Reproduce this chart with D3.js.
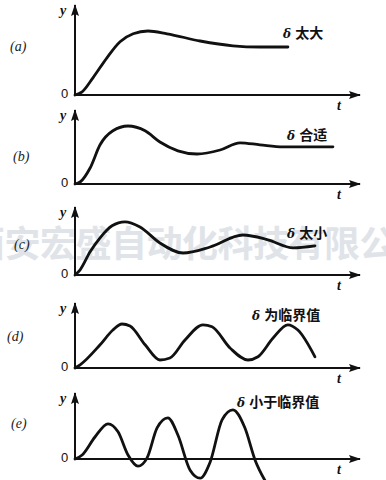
<!DOCTYPE html>
<html lang="zh">
<head>
    <meta charset="UTF-8">
    <title>调节过程曲线</title>
    <script src="https://d3js.org/d3.v7.min.js"></script>
    <style>
        body { margin: 0; background: #fff; overflow: hidden; }
        svg { display: block; }
        .tag { font-family: 'Liberation Serif', serif; font-style: italic; font-size: 14px; fill: #222; }
        .note { font-family: 'Noto Sans CJK SC', sans-serif; font-weight: 700; font-size: 14px; fill: #111; }
        .delta { font-family: 'DejaVu Serif', serif; font-style: italic; font-size: 12px; }
        .ax { font-family: 'Liberation Serif', serif; font-style: italic; font-weight: 700; font-size: 14px; fill: #111; }
        .zero { font-family: 'Liberation Sans', sans-serif; font-size: 13px; fill: #111; }
    </style>
</head>
<body>
<svg id="chart" width="386" height="480"></svg>
<script>
    // 各曲线数据（时间 t, 被调量 y）
    const panelTags = ['(a)', '(b)', '(c)', '(d)', '(e)'];
    const panelNotes = ['太大', '合适', '太小', '为临界值', '小于临界值'];

    const tA = [0, 0.25, 0.63, 1.12, 1.58, 2.04, 2.56, 3.23, 4.39, 5.54, 6.49, 7.47];
    const yA = [0, 0.08, 0.43, 0.93, 1.33, 1.53, 1.60, 1.53, 1.35, 1.23, 1.20, 1.20];

    const tB = [0, 0.18, 0.53, 0.88, 1.33, 1.86, 2.46, 2.98, 3.61, 4.28, 5.09, 5.79, 6.49, 7.30, 9.05];
    const yB = [0, 0.05, 0.40, 0.98, 1.33, 1.45, 1.33, 1.05, 0.83, 0.75, 0.85, 1.03, 0.98, 0.93, 0.93];

    const tC = [0, 0.18, 0.53, 0.88, 1.30, 1.75, 2.28, 2.98, 3.79, 4.74, 5.89, 6.77, 7.65, 8.42];
    const yC = [0, 0.13, 0.58, 0.93, 1.23, 1.33, 1.20, 0.80, 0.55, 0.70, 1.00, 0.88, 0.68, 0.73];

    const tD = [0, 0.18, 0.88, 1.33, 1.65, 1.93, 2.46, 2.98, 3.33, 3.86, 4.49, 4.81, 5.44, 6.07, 6.42, 6.95, 7.47, 7.82, 8.42];
    const yD = [0, 0.08, 0.58, 0.95, 1.10, 1.05, 0.58, 0.20, 0.25, 0.70, 1.08, 1.03, 0.50, 0.20, 0.28, 0.75, 1.08, 0.95, 0.28];

    const tE = [0, 0.25, 0.70, 1.16, 1.51, 1.86, 2.21, 2.53, 2.88, 3.26, 3.61, 4.04, 4.39, 4.74, 5.16, 5.54, 5.96, 6.32, 6.70];
    const yE = [0, 0.10, 0.55, 0.88, 0.68, 0.10, -0.18, 0.03, 0.78, 1.03, 0.60, -0.28, -0.48, -0.08, 0.98, 1.23, 0.78, -0.03, -0.58];

    const series = [[tA, yA], [tB, yB], [tC, yC], [tD, yD], [tE, yE]];

    // 版面
    const baselines = [95, 184, 275, 368, 459];
    const axisTops = [5, 110, 207, 303, 393];
    const tagPos = [[10, 51], [13, 161], [14, 249], [7, 341], [11, 428]];
    const notePos = [[283, 38], [287, 140], [287, 238], [252, 320], [237, 407]];

    const svg = d3.select('#chart');

    // 水印
    svg.append('text')
        .attr('x', -31).attr('y', 257)
        .attr('font-family', "'Noto Sans CJK SC', sans-serif")
        .attr('font-weight', 700)
        .attr('font-size', 36)
        .attr('letter-spacing', -0.5)
        .attr('fill', '#e0e4e9')
        .text('西安宏盛自动化科技有限公');

    const x = d3.scaleLinear().domain([0, 10]).range([75, 360]);

    const defs = svg.append('defs');
    defs.append('marker')
        .attr('id', 'arrow')
        .attr('viewBox', '0 0 12 8')
        .attr('refX', 11).attr('refY', 4)
        .attr('markerWidth', 12).attr('markerHeight', 8)
        .attr('markerUnits', 'userSpaceOnUse')
        .attr('orient', 'auto')
        .append('path')
        .attr('d', 'M0,0 L12,4 L0,8 L2,4 Z')
        .attr('fill', '#111');

    series.forEach(([ts, ys], i) => {
        const base = baselines[i];
        const y = d3.scaleLinear().domain([0, 1]).range([base, base - 40]);
        const g = svg.append('g');

        // 坐标轴
        g.append('line')
            .attr('x1', x(0)).attr('y1', base + 1)
            .attr('x2', x(0)).attr('y2', axisTops[i])
            .attr('stroke', '#111').attr('stroke-width', 2)
            .attr('marker-end', 'url(#arrow)');
        g.append('line')
            .attr('x1', x(0) - 1).attr('y1', base)
            .attr('x2', x(10)).attr('y2', base)
            .attr('stroke', '#111').attr('stroke-width', 1.8)
            .attr('marker-end', 'url(#arrow)');

        g.append('text').attr('class', 'ax').attr('x', 60).attr('y', axisTops[i] + 10).text('y');
        g.append('text').attr('class', 'ax').attr('x', 337).attr('y', base + 15).text('t');
        g.append('text').attr('class', 'zero').attr('x', 61).attr('y', base + 3).text('0');
        g.append('text').attr('class', 'tag').attr('x', tagPos[i][0]).attr('y', tagPos[i][1]).text(panelTags[i]);

        const note = g.append('text').attr('class', 'note')
            .attr('x', notePos[i][0]).attr('y', notePos[i][1]);
        note.append('tspan').attr('class', 'delta').text('δ ');
        note.append('tspan').text(panelNotes[i]);

        // 曲线
        const pts = ts.map((t, k) => [t, ys[k]]);
        const line = d3.line()
            .x(d => x(d[0]))
            .y(d => y(d[1]))
            .curve(d3.curveMonotoneX);
        g.append('path')
            .attr('d', line(pts))
            .attr('fill', 'none')
            .attr('stroke', '#111')
            .attr('stroke-width', 2.8)
            .attr('stroke-linecap', 'round');
    });
</script>
</body>
</html>
